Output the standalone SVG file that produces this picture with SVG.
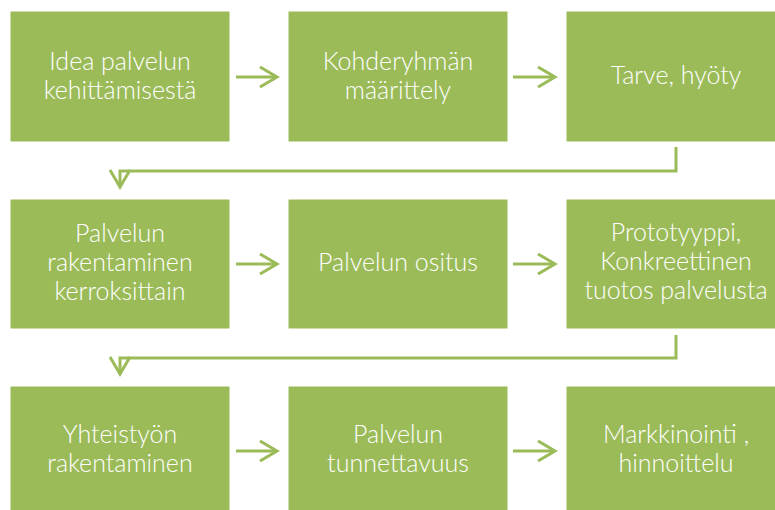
<svg xmlns="http://www.w3.org/2000/svg" width="775" height="510" viewBox="0 0 775 510">
<defs>
<style>
.box{fill:#9BBB59;stroke:#ffffff;stroke-width:1}
.t{fill:#ffffff;font-family:Lato,"Liberation Sans",sans-serif;font-weight:300;font-size:25px;text-anchor:middle}
.c{fill:none;stroke:#9BBB59;stroke-width:3}
</style>
<marker id="ah" viewBox="0 0 22 22" refX="19" refY="11" markerWidth="22" markerHeight="22" markerUnits="userSpaceOnUse" orient="auto">
<path d="M2 1 L19 11 L2 21" fill="none" stroke="#9BBB59" stroke-width="3"/>
</marker>
</defs>
<rect width="775" height="510" fill="#ffffff"/>
<g id="connectors">
<line class="c" x1="236" y1="77" x2="277" y2="77" marker-end="url(#ah)"/>
<line class="c" x1="513" y1="77" x2="555" y2="77" marker-end="url(#ah)"/>
<polyline class="c" points="676,147 676,171 120,171 120,187" marker-end="url(#ah)"/>
<line class="c" x1="236" y1="264" x2="277" y2="264" marker-end="url(#ah)"/>
<line class="c" x1="513" y1="264" x2="555" y2="264" marker-end="url(#ah)"/>
<polyline class="c" points="676,335 676,358 120,358 120,374" marker-end="url(#ah)"/>
<line class="c" x1="236" y1="451" x2="277" y2="451" marker-end="url(#ah)"/>
<line class="c" x1="513" y1="451" x2="555" y2="451" marker-end="url(#ah)"/>
</g>
<g id="n1"><rect class="box" x="10" y="11" width="220" height="131"/><text class="t" x="120" y="70">Idea palvelun</text><text class="t" x="120" y="99">kehittämisestä</text></g>
<g id="n2"><rect class="box" x="288" y="11" width="220" height="131"/><text class="t" x="398" y="70">Kohderyhmän</text><text class="t" x="398" y="99">määrittely</text></g>
<g id="n3"><rect class="box" x="566" y="11" width="220" height="131"/><text class="t" x="676" y="84">Tarve, hyöty</text></g>
<g id="n4"><rect class="box" x="10" y="199" width="220" height="130"/><text class="t" x="120" y="242">Palvelun</text><text class="t" x="120" y="271">rakentaminen</text><text class="t" x="120" y="300">kerroksittain</text></g>
<g id="n5"><rect class="box" x="288" y="199" width="220" height="130"/><text class="t" x="398" y="271">Palvelun ositus</text></g>
<g id="n6"><rect class="box" x="566" y="199" width="220" height="130"/><text class="t" x="676" y="241">Prototyyppi,</text><text class="t" x="676" y="270">Konkreettinen</text><text class="t" x="676" y="299">tuotos palvelusta</text></g>
<g id="n7"><rect class="box" x="10" y="386" width="220" height="131"/><text class="t" x="120" y="443">Yhteistyön</text><text class="t" x="120" y="472">rakentaminen</text></g>
<g id="n8"><rect class="box" x="288" y="386" width="220" height="131"/><text class="t" x="398" y="443">Palvelun</text><text class="t" x="398" y="472">tunnettavuus</text></g>
<g id="n9"><rect class="box" x="566" y="386" width="220" height="131"/><text class="t" x="676" y="443">Markkinointi ,</text><text class="t" x="676" y="472">hinnoittelu</text></g>
</svg>
